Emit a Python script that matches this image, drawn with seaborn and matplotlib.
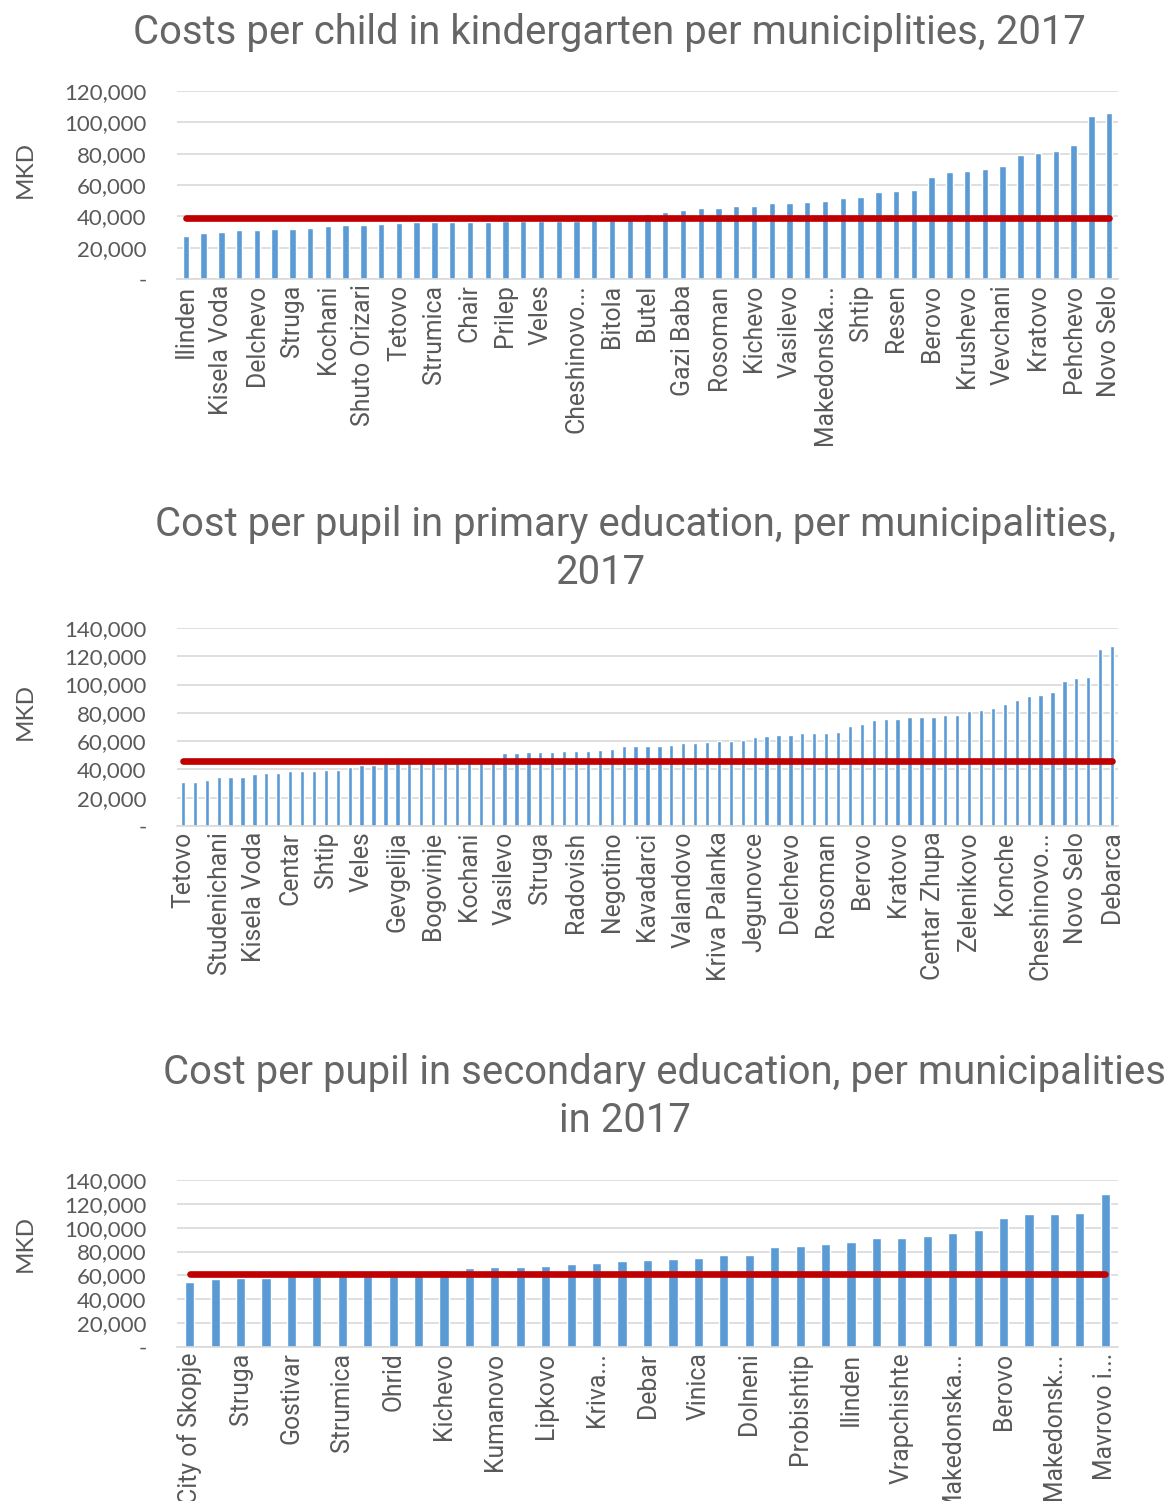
import numpy as np
import pandas as pd
import matplotlib
matplotlib.use("Agg")
import matplotlib.pyplot as plt
import seaborn as sns
from matplotlib.ticker import FuncFormatter, MultipleLocator

sns.set_theme(style="white")
plt.rcParams["font.family"] = ["Roboto", "DejaVu Sans"]

BAR_COLOR = "#5B9BD5"
AVG_COLOR = "#C00000"
GRID_COLOR = "#D9D9D9"
TEXT_COLOR = "#595959"
TITLE_COLOR = "#666666"

# ---- Kindergarten: cost per child (MKD), 2017 ----
kg_labels = ["Ilinden", "Kisela Voda", "Delchevo", "Struga", "Kochani", "Shuto Orizari",
             "Tetovo", "Strumica", "Chair", "Prilep", "Veles", "Cheshinovo...", "Bitola",
             "Butel", "Gazi Baba", "Rosoman", "Kichevo", "Vasilevo", "Makedonska...",
             "Shtip", "Resen", "Berovo", "Krushevo", "Vevchani", "Kratovo", "Pehchevo",
             "Novo Selo"]
kg_values = [27200, 29400, 30000, 31300, 31300, 31700, 32100, 32600, 33600, 34300,
             34700, 35100, 35700, 36300, 36400, 36500, 36600, 36700, 36800, 36900,
             37000, 37100, 37300, 37500, 37800, 38200, 41700, 43000, 44000, 45100,
             45300, 46800, 46800, 48300, 48500, 49400, 49800, 51700, 52300, 55300,
             56400, 57000, 64900, 68100, 68700, 70400, 72400, 79400, 80700, 81700,
             85500, 104100, 106000]
kg_average = 38800

# ---- Primary education: cost per pupil (MKD), 2017 ----
pr_labels = ["Tetovo", "Studenichani", "Kisela Voda", "Centar", "Shtip", "Veles",
             "Gevgelija", "Bogovinje", "Kochani", "Vasilevo", "Struga", "Radovish",
             "Negotino", "Kavadarci", "Valandovo", "Kriva Palanka", "Jegunovce",
             "Delchevo", "Rosoman", "Berovo", "Kratovo", "Centar Zhupa", "Zelenikovo",
             "Konche", "Cheshinovo...", "Novo Selo", "Debarca"]
pr_values = [30900, 30900, 32300, 34500, 34900, 34900, 37000, 37300, 37800, 38700,
             38700, 38700, 39600, 39600, 42000, 43000, 43200, 44300, 44500, 44700,
             45000, 45300, 45600, 46000, 46500, 47200, 48400, 51400, 51400, 52400,
             52400, 52400, 53100, 53100, 53300, 53800, 54300, 56400, 56600, 56600,
             56900, 57100, 58500, 59000, 59700, 60200, 60400, 60900, 63000, 63500,
             64200, 64400, 65800, 66100, 66100, 66600, 71000, 72200, 75300, 75800,
             75800, 76900, 76900, 77100, 78400, 78600, 81400, 81900, 83100, 86600,
             89200, 91600, 92500, 94400, 102400, 104800, 105700, 124800, 127200]
pr_average = 46000

# ---- Secondary education: cost per pupil (MKD), 2017 ----
se_labels = ["City of Skopje", "Struga", "Gostivar", "Strumica", "Ohrid", "Kichevo",
             "Kumanovo", "Lipkovo", "Kriva...", "Debar", "Vinica", "Dolneni",
             "Probishtip", "Ilinden", "Vrapchishte", "Makedonska...", "Berovo",
             "Makedonsk...", "Mavrovo i..."]
se_values = [54500, 56700, 57800, 57800, 59200, 59400, 59600, 59800, 60000, 60200,
             64800, 65900, 67000, 67300, 67900, 69300, 70400, 72100, 72600, 73500,
             74300, 77100, 77400, 84100, 84900, 86600, 88300, 91600, 91600, 92700,
             95500, 97800, 108400, 111400, 111700, 112300, 128200]
se_average = 61500

W, H = 1168, 1501
fig = plt.figure(figsize=(W / 100, H / 100), dpi=100)
fig.patch.set_facecolor("white")


def px_axes(left, top, right, bottom):
    return fig.add_axes([left / W, 1 - bottom / H, (right - left) / W, (bottom - top) / H])


def money(v, _pos):
    return "-" if abs(v) < 1 else f"{v:,.0f}"


def draw_panel(ax, labels, values, average, step, ymax):
    n = len(values)
    pos = np.arange(n)
    data = pd.DataFrame({"pos": pos, "value": values})
    sns.barplot(data=data, x="pos", y="value", color=BAR_COLOR, saturation=1,
                width=0.36, ax=ax, zorder=2)
    avg = pd.DataFrame({"pos": pos, "value": [average] * n})
    sns.lineplot(data=avg, x="pos", y="value", color=AVG_COLOR, linewidth=4.8,
                 ax=ax, zorder=3, solid_capstyle="round")
    ax.set_xlim(-0.5, n - 0.5)
    ax.set_ylim(0, ymax)
    ax.yaxis.set_major_locator(MultipleLocator(20000))
    ax.yaxis.set_major_formatter(FuncFormatter(money))
    ax.grid(axis="y", color=GRID_COLOR, linewidth=1.2, zorder=0)
    ax.set_axisbelow(True)
    for side in ("top", "right", "left"):
        ax.spines[side].set_visible(False)
    ax.spines["bottom"].set_color(GRID_COLOR)
    ax.spines["bottom"].set_linewidth(1.2)
    ax.set_xticks(pos[::step])
    ax.set_xticklabels(labels, rotation=90, ha="center", va="top",
                       fontsize=17.8, color=TEXT_COLOR)
    ax.tick_params(axis="x", length=0, pad=4)
    ax.tick_params(axis="y", length=0, pad=22)
    for t in ax.get_yticklabels():
        t.set_fontfamily(["Lato", "DejaVu Sans"])
        t.set_fontsize(16)
        t.set_color(TEXT_COLOR)
    ax.set_xlabel("")
    ax.set_ylabel("")


ax1 = px_axes(177, 91, 1118, 279)
draw_panel(ax1, kg_labels, kg_values, kg_average, 2, 120000)
ax2 = px_axes(177, 628, 1118, 826)
draw_panel(ax2, pr_labels, pr_values, pr_average, 3, 140000)
ax3 = px_axes(177, 1180, 1118, 1347)
draw_panel(ax3, se_labels, se_values, se_average, 2, 140000)

title_kw = dict(ha="center", va="center", fontsize=28.9, color=TITLE_COLOR)
fig.text(609 / W, 1 - 32 / H, "Costs per child in kindergarten per municiplities, 2017", **title_kw)
fig.text(636 / W, 1 - 524 / H, "Cost per pupil in primary education, per municipalities,", **title_kw)
fig.text(600 / W, 1 - 572 / H, "2017", **title_kw)
fig.text(664 / W, 1 - 1073 / H, "Cost per pupil in secondary education, per municipalities", **title_kw)
fig.text(625 / W, 1 - 1120 / H, "in 2017", **title_kw)

for y in (170, 712, 1243):
    fig.text(25 / W, 1 - y / H, "MKD", rotation=90, ha="center", va="center",
             fontsize=17.5, color=TEXT_COLOR, family=["Lato", "DejaVu Sans"])

fig.savefig("out.png", dpi=100, facecolor="white")
